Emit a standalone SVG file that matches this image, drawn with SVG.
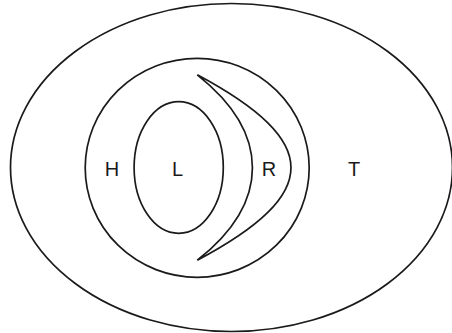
<svg xmlns="http://www.w3.org/2000/svg" width="452" height="333" viewBox="0 0 452 333">
<style>
.s{fill:none;stroke:#1a1a1a;stroke-width:1.7}
.t{font-family:"Liberation Sans",Arial,sans-serif;font-size:20px;fill:#1a1a1a;text-anchor:middle}
</style>
<rect width="452" height="333" fill="#fff"/>
<g id="T"><ellipse class="s" cx="231.5" cy="167.5" rx="221" ry="164"/><text class="t" x="354" y="176">T</text></g>
<g id="H"><ellipse class="s" cx="197.2" cy="167.8" rx="112" ry="109.5"/><text class="t" x="112" y="176">H</text></g>
<g id="L"><ellipse class="s" cx="178.7" cy="167.5" rx="44.6" ry="65.8"/><text class="t" x="177.5" y="176">L</text></g>
<g id="R"><path class="s" stroke-linejoin="miter" d="M197.3,74.8 C270.8,133 270.8,202.4 197.3,260.2 C322.2,193.7 322.2,141.7 197.3,74.8 Z"/><text class="t" x="269" y="176">R</text></g>
</svg>
